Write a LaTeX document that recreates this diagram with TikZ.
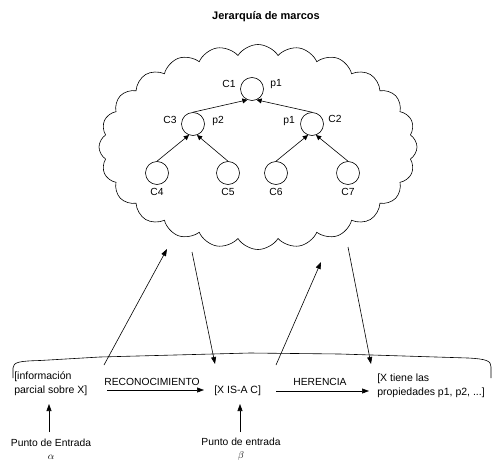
\documentclass[tikz,border=0pt]{standalone}
\usepackage{fontspec}
\setmainfont{Liberation Sans}
\usetikzlibrary{shapes.symbols,arrows.meta}
\begin{document}
\begin{tikzpicture}[x=1pt,y=-1pt,line width=0.6pt,
  frame/.style={circle,draw,minimum size=23pt,inner sep=0pt},
  lab/.style={font=\fontsize{10.3}{11}\selectfont,inner sep=0pt},
  txt/.style={font=\fontsize{10.5}{14}\selectfont,align=left,inner sep=0pt,anchor=west},
  tarr/.style={-{Triangle[length=5pt,width=5pt]}},
  barr/.style={-{Triangle[length=7pt,width=5pt]}}]
\useasboundingbox (0,0) rectangle (497,468);
\node[font=\bfseries\fontsize{11}{12}\selectfont] (title) at (266,17) {Jerarquía de marcos};
\node[cloud,draw,cloud puffs=24,cloud puff arc=115,cloud ignores aspect,
  minimum width=318pt,minimum height=205pt,inner sep=0pt] (cloud) at (258,147) {};
% frames
\node[frame] (C1) at (252,89) {};
\node[frame] (C3) at (193,124) {};
\node[frame] (C2) at (312,124) {};
\node[frame] (C4) at (157,173) {};
\node[frame] (C5) at (228,173) {};
\node[frame] (C6) at (276,173) {};
\node[frame] (C7) at (348,173) {};
\node[lab] (lC1) at (229,84) {C1};
\node[lab] (lp1a) at (276,84) {p1};
\node[lab] (lC3) at (170,120) {C3};
\node[lab] (lp2) at (218,121) {p2};
\node[lab] (lp1b) at (289,121) {p1};
\node[lab] (lC2) at (335,119) {C2};
\node[lab] (lC4) at (157,192) {C4};
\node[lab] (lC5) at (228,192) {C5};
\node[lab] (lC6) at (276,192) {C6};
\node[lab] (lC7) at (348,192) {C7};
\draw[tarr] (C3.north) -- (C1.-113);
\draw[tarr] (C2.north) -- (C1.-67);
\draw[tarr] (C4.north) -- (C3.-110);
\draw[tarr] (C5.north) -- (C3.-70);
\draw[tarr] (C6.north) -- (C2.-110);
\draw[tarr] (C7.north) -- (C2.-70);
% bracket
\draw (13,378) -- (13,368) .. controls (13,362) and (20,361) .. (40,360.5) -- (100,357) -- (250,353) -- (340,354) -- (468,358) .. controls (487,359) and (491,361) .. (491,367) -- (491,378);
% texts
\node[txt] (info) at (14,384) {[información\\parcial sobre X]};
\node[txt] (isa) at (214,391) {[X IS-A C]};
\node[txt] (prop) at (377,386) {[X tiene las\\propiedades p1, p2, ...]};
\node[lab] (recon) at (152,382) {RECONOCIMIENTO};
\node[lab] (her) at (320,382) {HERENCIA};
\coordinate (r1) at (107,390);
\coordinate (r2) at (204,390);
\coordinate (h1) at (276,391);
\coordinate (h2) at (369,391);
\draw[barr] (r1) -- (r2);
\draw[barr] (h1) -- (h2);
% entry points
\node[lab,align=center,font=\fontsize{10.3}{13}\selectfont] (e1) at (51,449) {Punto de Entrada\\$\alpha$};
\node[lab,align=center,font=\fontsize{10.3}{13}\selectfont] (e2) at (241,449) {Punto de entrada\\$\beta$};
\coordinate (e1t) at (49,432);
\coordinate (e1h) at (49,404);
\coordinate (e2t) at (240,432);
\coordinate (e2h) at (240,404);
\draw[barr] (e1t) -- (e1h);
\draw[barr] (e2t) -- (e2h);
% cloud links
\coordinate (u1s) at (104,365);
\coordinate (u1e) at (167,249);
\coordinate (d1s) at (192,252);
\coordinate (d1e) at (215,364);
\coordinate (u2s) at (276,365);
\coordinate (u2e) at (321,262);
\coordinate (d2s) at (348,247);
\coordinate (d2e) at (371,364);
\draw[barr] (u1s) -- (u1e);
\draw[barr] (d1s) -- (d1e);
\draw[barr] (u2s) -- (u2e);
\draw[barr] (d2s) -- (d2e);
\end{tikzpicture}
\end{document}
